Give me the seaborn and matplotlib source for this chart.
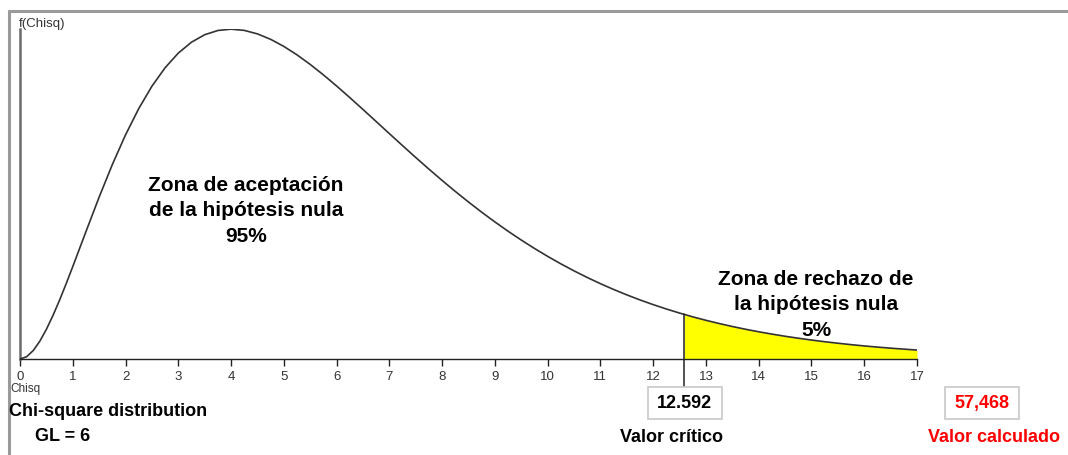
import numpy as np
import pandas as pd
import matplotlib
matplotlib.use("Agg")
import matplotlib.pyplot as plt
from matplotlib.lines import Line2D
from matplotlib.patches import Rectangle
import seaborn as sns

# ---- data (chi-square density, GL = 6) ----
chisq = [0, 0.125, 0.25, 0.375, 0.5, 0.625, 0.75, 0.875, 1, 1.25, 1.5, 1.75, 2, 2.25, 2.5,
         2.75, 3, 3.25, 3.5, 3.75,
         4, 4.25, 4.5, 4.75, 5, 5.25, 5.5, 5.75, 6, 6.25, 6.5, 6.75, 7, 7.25, 7.5, 7.75,
         8, 8.25, 8.5, 8.75, 9, 9.25, 9.5, 9.75, 10, 10.25, 10.5, 10.75, 11, 11.25, 11.5,
         11.75, 12, 12.25, 12.5, 12.75, 13, 13.25, 13.5, 13.75, 14, 14.25, 14.5, 14.75,
         15, 15.25, 15.5, 15.75, 16, 16.25, 16.5, 16.75, 17]
density = [0.0, 0.000917, 0.003447, 0.007286, 0.012169, 0.017862, 0.024163, 0.030895,
           0.037908, 0.052272, 0.066427, 0.079790,
           0.091970, 0.102722, 0.111916, 0.119506, 0.125511, 0.129993, 0.133046, 0.134785,
           0.135335, 0.134829, 0.133396, 0.131164, 0.128258, 0.124789, 0.120864, 0.116578,
           0.112021, 0.107268, 0.102388, 0.097441, 0.092478, 0.087546, 0.082680, 0.077909,
           0.073264, 0.068756, 0.064411, 0.060236, 0.056239, 0.052423, 0.048803, 0.045363,
           0.042113, 0.039044, 0.036162, 0.033448, 0.030908, 0.028532, 0.026310, 0.024239,
           0.022311, 0.020512, 0.018848, 0.017303, 0.015875, 0.014561, 0.013338, 0.012206,
           0.011172, 0.010217, 0.009330, 0.008526, 0.007777, 0.007093, 0.006472, 0.005892,
           0.005360, 0.004885, 0.004441, 0.004051, 0.003667]
critical_value = 12.592
critical_density = 0.018264
calculated_label = "57,468"
critical_label = "12.592"
x_ticks = list(range(0, 18))
gl = 6

sns.set_style("white")
plt.rcParams['font.family'] = ['Liberation Sans', 'DejaVu Sans']

W, H = 1068, 456
fig = plt.figure(figsize=(W / 100, H / 100), dpi=100)


def fx(px):
    return px / W


def fy(py):
    return 1 - py / H


ax = fig.add_axes([fx(20), fy(360), fx(917) - fx(20), fy(30) - fy(360)])

df = pd.DataFrame({"Chisq": chisq, "f": density})
sns.lineplot(data=df, x="Chisq", y="f", ax=ax, color="#333333", lw=1.2, zorder=3)

# rejection zone
tail = df[df["Chisq"] > critical_value]
tx = [critical_value] + tail["Chisq"].tolist()
ty = [critical_density] + tail["f"].tolist()
ax.fill_between(tx, 0, ty, color="#ffff00", zorder=2, lw=0)
ax.plot([critical_value, critical_value], [critical_density, -0.0113],
        color="#222222", lw=1.1, clip_on=False, zorder=4)

ax.set_xlim(0, 17)
ax.set_ylim(0, 0.1354)
ax.set_xticks(x_ticks)
ax.set_xticklabels([str(t) for t in x_ticks])
ax.set_yticks([])
ax.set_xlabel("")
ax.set_ylabel("")
ax.tick_params(axis="x", direction="out", length=5, width=1, color="#222222",
               labelsize=9.5, labelcolor="#333333", pad=3, bottom=True)
for s in ["top", "right"]:
    ax.spines[s].set_visible(False)
ax.spines["bottom"].set_color("#222222")
ax.spines["bottom"].set_linewidth(1)
ax.spines["left"].set_color("#6a6a6a")
ax.spines["left"].set_linewidth(1.8)
ax.patch.set_alpha(0)

# outer frame
fig.add_artist(Line2D([fx(9), fx(9)], [fy(12), 0], color="#9a9a9a", lw=2.2))
fig.add_artist(Line2D([fx(9), 1], [fy(12), fy(12)], color="#9a9a9a", lw=2.2))

# axis captions
fig.text(fx(19), fy(24), "f(Chisq)", fontsize=9.5, color="#333333", va="center", ha="left")
fig.text(fx(10), fy(389), "Chisq", fontsize=8.5, color="#333333", va="center", ha="left")

bold = dict(fontsize=13, fontweight="bold", va="center")
fig.text(fx(9), fy(412), "Chi-square distribution", ha="left", color="black", **bold)
fig.text(fx(35), fy(437), f"GL = {gl}", ha="left", color="black", **bold)

# boxes
for cx, label, col in [(684.5, critical_label, "black"), (982, calculated_label, "#ff0000")]:
    fig.add_artist(Rectangle((fx(cx - 37), fy(420)), fx(74), fy(388) - fy(420),
                             transform=fig.transFigure, facecolor="white",
                             edgecolor="#c8c8c8", lw=1.2))
    fig.text(fx(cx), fy(404), label, ha="center", color=col, **bold)

fig.text(fx(671), fy(438), "Valor crítico", ha="center", color="black", **bold)
fig.text(fx(994), fy(438), "Valor calculado", ha="center", color="#ff0000", **bold)

# zone annotations
zone = dict(fontsize=15, fontweight="bold", ha="center", va="center",
            linespacing=1.42, color="black")
fig.text(fx(246), fy(211), "Zona de aceptación\nde la hipótesis nula\n95%", **zone)
fig.text(fx(816), fy(305), "Zona de rechazo de\nla hipótesis nula\n5%", **zone)

fig.savefig("out.png", dpi=100, facecolor="white")
